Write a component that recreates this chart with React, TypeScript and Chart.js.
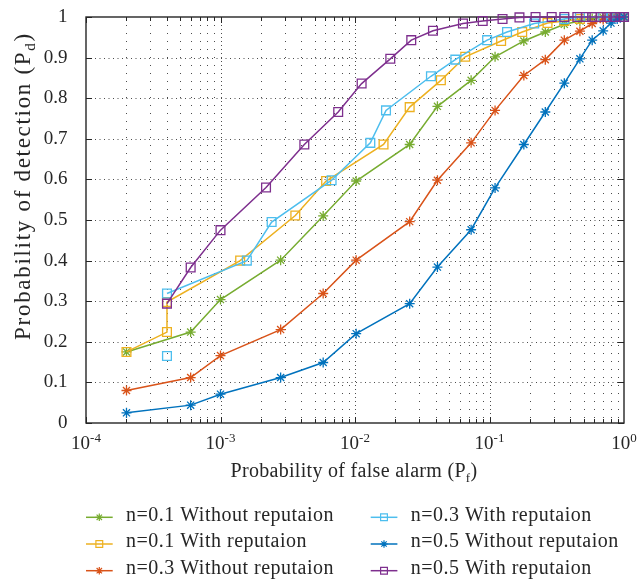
import React, { useEffect, useRef } from 'react';
import { Chart, registerables } from 'chart.js';

Chart.register(...registerables);

// ---------------- data ----------------
const X_WITHOUT = [2e-4, 6e-4, 1e-3, 2.8e-3, 5.8e-3, 1.02e-2, 2.55e-2, 4.1e-2, 7.3e-2, 0.11, 0.18, 0.26, 0.36, 0.47, 0.58, 0.7, 0.8, 0.89, 1.0];
const PD_N01_WITHOUT = [0.175, 0.224, 0.304, 0.401, 0.51, 0.596, 0.686, 0.78, 0.844, 0.902, 0.941, 0.963, 0.982, 0.99, 0.996, 0.999, 1, 1, 1];
const PD_N03_WITHOUT = [0.08, 0.112, 0.166, 0.23, 0.319, 0.401, 0.496, 0.598, 0.69, 0.77, 0.856, 0.895, 0.943, 0.965, 0.984, 0.994, 0.998, 1, 1];
const PD_N05_WITHOUT = [0.025, 0.044, 0.071, 0.112, 0.149, 0.22, 0.294, 0.384, 0.476, 0.579, 0.686, 0.766, 0.837, 0.897, 0.943, 0.966, 0.985, 0.995, 1];

const X_N01_WITH = [2e-4, 4e-4, 4e-4, 1.4e-3, 3.6e-3, 6.1e-3, 1.63e-2, 2.55e-2, 4.35e-2, 6.6e-2, 0.122, 0.175, 0.27, 0.36, 0.47, 0.58, 0.7, 0.8, 0.89, 1.0];
const PD_N01_WITH = [0.175, 0.224, 0.298, 0.4, 0.511, 0.596, 0.686, 0.778, 0.844, 0.902, 0.941, 0.963, 0.985, 0.99, 0.995, 1, 1, 1, 1, 1];

const X_N03_WITH = [4e-4, 4e-4, 4e-4, 1.57e-3, 2.4e-3, 6.7e-3, 1.3e-2, 1.7e-2, 3.67e-2, 5.57e-2, 0.096, 0.135, 0.215, 0.36, 0.47, 0.58, 0.7, 0.8, 0.89, 1.0];
const PD_N03_WITH = [0.165, null, 0.319, 0.4, 0.495, 0.598, 0.69, 0.77, 0.854, 0.895, 0.943, 0.963, 0.984, 0.995, 1, 1, 1, 1, 1, 1];

const X_N05_WITH = [4e-4, 6e-4, 1e-3, 2.18e-3, 4.2e-3, 7.5e-3, 1.12e-2, 1.83e-2, 2.62e-2, 3.8e-2, 6.35e-2, 8.9e-2, 0.125, 0.167, 0.22, 0.29, 0.36, 0.45, 0.52, 0.58, 0.67, 0.75, 0.85, 0.94, 1.0];
const PD_N05_WITH = [0.294, 0.383, 0.475, 0.58, 0.686, 0.766, 0.836, 0.897, 0.943, 0.966, 0.984, 0.99, 0.995, 0.999, 1, 1, 1, 1, 1, 1, 1, 1, 1, 1, 1];

const SERIES_LABELS = [
  'n=0.1 Without reputaion',
  'n=0.1 With reputaion',
  'n=0.3 Without reputaion',
  'n=0.3 With reputaion',
  'n=0.5 Without reputaion',
  'n=0.5 With reputaion',
];

const X_TICKS = [1e-4, 1e-3, 1e-2, 1e-1, 1];
const X_TICK_EXP = ['-4', '-3', '-2', '-1', '0'];
const Y_TICKS = [0, 0.1, 0.2, 0.3, 0.4, 0.5, 0.6, 0.7, 0.8, 0.9, 1];
const Y_TICK_LABELS = ['0', '0.1', '0.2', '0.3', '0.4', '0.5', '0.6', '0.7', '0.8', '0.9', '1'];

const X_TITLE = 'Probability of false alarm (P';
const X_TITLE_SUB = 'f';
const Y_TITLE = 'Probability of detection (P';
const Y_TITLE_SUB = 'd';

// ---------------- style ----------------
const W = 638;
const H = 584;
const FONT = "'Liberation Serif', 'Times New Roman', serif";
const INK = '#262626';

const STYLES = [
  { color: '#77AC30', marker: 'star' },
  { color: '#EDB120', marker: 'rect' },
  { color: '#D95319', marker: 'star' },
  { color: '#4DBEEE', marker: 'rect' },
  { color: '#0072BD', marker: 'star' },
  { color: '#7E2F8E', marker: 'rect' },
];

const SERIES = [
  { xs: X_WITHOUT, ys: PD_N01_WITHOUT },
  { xs: X_N01_WITH, ys: PD_N01_WITH },
  { xs: X_WITHOUT, ys: PD_N03_WITHOUT },
  { xs: X_N03_WITH, ys: PD_N03_WITH },
  { xs: X_WITHOUT, ys: PD_N05_WITHOUT },
  { xs: X_N05_WITH, ys: PD_N05_WITH },
];

function drawMarker(ctx: CanvasRenderingContext2D, kind: string, x: number, y: number, r: number, color: string) {
  ctx.save();
  ctx.strokeStyle = color;
  ctx.lineWidth = 1.2;
  ctx.beginPath();
  if (kind === 'star') {
    for (let k = 0; k < 4; k++) {
      const ang = (k * Math.PI) / 4;
      const dx = Math.cos(ang) * r;
      const dy = Math.sin(ang) * r;
      ctx.moveTo(x - dx, y - dy);
      ctx.lineTo(x + dx, y + dy);
    }
  } else {
    ctx.rect(x - r, y - r, 2 * r, 2 * r);
  }
  ctx.stroke();
  ctx.restore();
}

function drawSubText(
  ctx: CanvasRenderingContext2D,
  main: string,
  sub: string,
  cx: number,
  baseline: number,
  size: number,
  subSize: number,
  spacing: number
) {
  ctx.textAlign = 'left';
  ctx.textBaseline = 'alphabetic';
  (ctx as any).letterSpacing = spacing + 'px';
  ctx.font = `${size}px ${FONT}`;
  const w1 = ctx.measureText(main).width;
  const w3 = ctx.measureText(')').width;
  ctx.font = `${subSize}px ${FONT}`;
  const w2 = ctx.measureText(sub).width;
  const total = w1 + w2 + w3;
  let x = cx - total / 2;
  ctx.font = `${size}px ${FONT}`;
  ctx.fillText(main, x, baseline);
  x += w1;
  ctx.font = `${subSize}px ${FONT}`;
  ctx.fillText(sub, x, baseline + 5);
  x += w2;
  ctx.font = `${size}px ${FONT}`;
  ctx.fillText(')', x, baseline);
  (ctx as any).letterSpacing = '0px';
}

const decorPlugin = {
  id: 'decor',
  beforeDatasetsDraw(chart: any) {
    const { ctx, chartArea: a, scales } = chart;
    const xs = scales.x;
    const ys = scales.y;
    ctx.save();
    // dotted grid
    ctx.lineWidth = 1;
    ctx.strokeStyle = 'rgba(0,0,0,0.7)';
    for (let e = -4; e < 0; e++) {
      for (let m = 1; m <= 9; m++) {
        const v = m * Math.pow(10, e);
        if (e === -4 && m === 1) continue;
        ctx.setLineDash(m === 1 ? [1, 3] : [1, 7]);
        const px = Math.round(xs.getPixelForValue(v)) + 0.5;
        ctx.beginPath();
        ctx.moveTo(px, a.top);
        ctx.lineTo(px, a.bottom);
        ctx.stroke();
      }
    }
    ctx.setLineDash([1, 3.5]);
    for (const t of Y_TICKS) {
      if (t <= 0 || t >= 1) continue;
      const py = Math.round(ys.getPixelForValue(t)) + 0.5;
      ctx.beginPath();
      ctx.moveTo(a.left, py);
      ctx.lineTo(a.right, py);
      ctx.stroke();
    }
    ctx.setLineDash([]);
    // tick marks (inward)
    ctx.strokeStyle = INK;
    ctx.lineWidth = 1;
    for (let e = -4; e < 0; e++) {
      for (let m = 1; m <= 9; m++) {
        const v = m * Math.pow(10, e);
        const px = Math.round(xs.getPixelForValue(v)) + 0.5;
        const len = m === 1 ? 6 : 4;
        ctx.beginPath();
        ctx.moveTo(px, a.bottom);
        ctx.lineTo(px, a.bottom - len);
        ctx.moveTo(px, a.top);
        ctx.lineTo(px, a.top + len);
        ctx.stroke();
      }
    }
    for (const t of Y_TICKS) {
      const py = Math.round(ys.getPixelForValue(t)) + 0.5;
      ctx.beginPath();
      ctx.moveTo(a.left, py);
      ctx.lineTo(a.left + 6, py);
      ctx.moveTo(a.right, py);
      ctx.lineTo(a.right - 6, py);
      ctx.stroke();
    }
    // box
    ctx.lineWidth = 1.4;
    ctx.strokeRect(a.left, a.top, a.right - a.left, a.bottom - a.top);
    ctx.restore();
  },
  afterDraw(chart: any) {
    const { ctx, chartArea: a, scales } = chart;
    const xs = scales.x;
    ctx.save();
    ctx.fillStyle = INK;
    // x tick labels with superscripts
    X_TICKS.forEach((v, i) => {
      const px = xs.getPixelForValue(v);
      ctx.font = `19px ${FONT}`;
      const w1 = ctx.measureText('10').width;
      ctx.font = `13px ${FONT}`;
      const w2 = ctx.measureText(X_TICK_EXP[i]).width;
      const x0 = px - (w1 + w2) / 2;
      ctx.textAlign = 'left';
      ctx.textBaseline = 'alphabetic';
      ctx.font = `19px ${FONT}`;
      ctx.fillText('10', x0, a.bottom + 25.5);
      ctx.font = `13px ${FONT}`;
      ctx.fillText(X_TICK_EXP[i], x0 + w1, a.bottom + 18.7);
    });
    // x title
    drawSubText(ctx, X_TITLE, X_TITLE_SUB, (a.left + a.right) / 2 - 1, a.bottom + 53.7, 20, 13, 0.3);
    // y title
    ctx.save();
    ctx.translate(29.5, 186);
    ctx.rotate(-Math.PI / 2);
    drawSubText(ctx, Y_TITLE, Y_TITLE_SUB, 0, 0, 23, 15, 1.7);
    ctx.restore();
    // legend
    const colX = [86, 370.7];
    const rowY = [517.3, 544, 570.7];
    SERIES_LABELS.forEach((label, i) => {
      const col = i < 3 ? 0 : 1;
      const row = i % 3;
      const x0 = colX[col];
      const y0 = rowY[row];
      const st = STYLES[i];
      ctx.strokeStyle = st.color;
      ctx.lineWidth = 1.5;
      ctx.beginPath();
      ctx.moveTo(x0, y0);
      ctx.lineTo(x0 + 26.7, y0);
      ctx.stroke();
      drawMarker(ctx, st.marker, x0 + 13.3, y0, st.marker === 'rect' ? 3.4 : 3.8, st.color);
      ctx.fillStyle = INK;
      ctx.font = `20px ${FONT}`;
      ctx.textAlign = 'left';
      ctx.textBaseline = 'alphabetic';
      (ctx as any).letterSpacing = '0.5px';
      ctx.fillText(label, x0 + 40, y0 + 3.4);
      (ctx as any).letterSpacing = '0px';
    });
    ctx.restore();
  },
};

export default function App() {
  const ref = useRef<HTMLCanvasElement | null>(null);
  useEffect(() => {
    if (!ref.current) return;
    const datasets = SERIES.map((s, i) => ({
      label: SERIES_LABELS[i],
      data: s.xs.map((x, k) => ({ x, y: s.ys[k] })),
      borderColor: STYLES[i].color,
      backgroundColor: 'rgba(0,0,0,0)',
      borderWidth: 1.5,
      pointStyle: STYLES[i].marker === 'star' ? 'star' : 'rect',
      pointRadius: STYLES[i].marker === 'star' ? 5 : 6.2,
      pointBorderWidth: 1.3,
      pointBorderColor: STYLES[i].color,
      pointBackgroundColor: 'rgba(0,0,0,0)',
      tension: 0,
      spanGaps: false,
      clip: false as any,
      order: SERIES.length - 1 - i,
    }));
    const chart = new Chart(ref.current, {
      type: 'line',
      data: { datasets },
      options: {
        responsive: false,
        animation: false,
        devicePixelRatio: 1,
        events: [],
        layout: { padding: { left: 0, right: 14, top: 17, bottom: 0 } },
        plugins: { legend: { display: false }, tooltip: { enabled: false } },
        scales: {
          x: {
            type: 'logarithmic',
            min: 1e-4,
            max: 1,
            position: 'bottom',
            grid: { display: false },
            border: { display: false },
            ticks: { display: false },
            afterFit: (s: any) => {
              s.height = 161;
              s.paddingLeft = 0;
              s.paddingRight = 0;
            },
          },
          y: {
            type: 'linear',
            min: 0,
            max: 1,
            grid: { display: false },
            border: { display: false },
            afterBuildTicks: (s: any) => {
              s.ticks = Y_TICKS.map((v) => ({ value: v }));
            },
            ticks: {
              autoSkip: false,
              padding: 10.5,
              color: INK,
              font: { family: FONT, size: 19 },
              callback: (_v: any, idx: number) => Y_TICK_LABELS[idx],
            },
            afterFit: (s: any) => {
              s.width = 86;
              s.paddingTop = 0;
              s.paddingBottom = 0;
            },
          },
        },
      },
      plugins: [decorPlugin],
    } as any);
    return () => chart.destroy();
  }, []);
  return (
    <canvas
      ref={ref}
      width={W}
      height={H}
      style={{ position: 'absolute', left: 0, top: 0, display: 'block' }}
    />
  );
}
